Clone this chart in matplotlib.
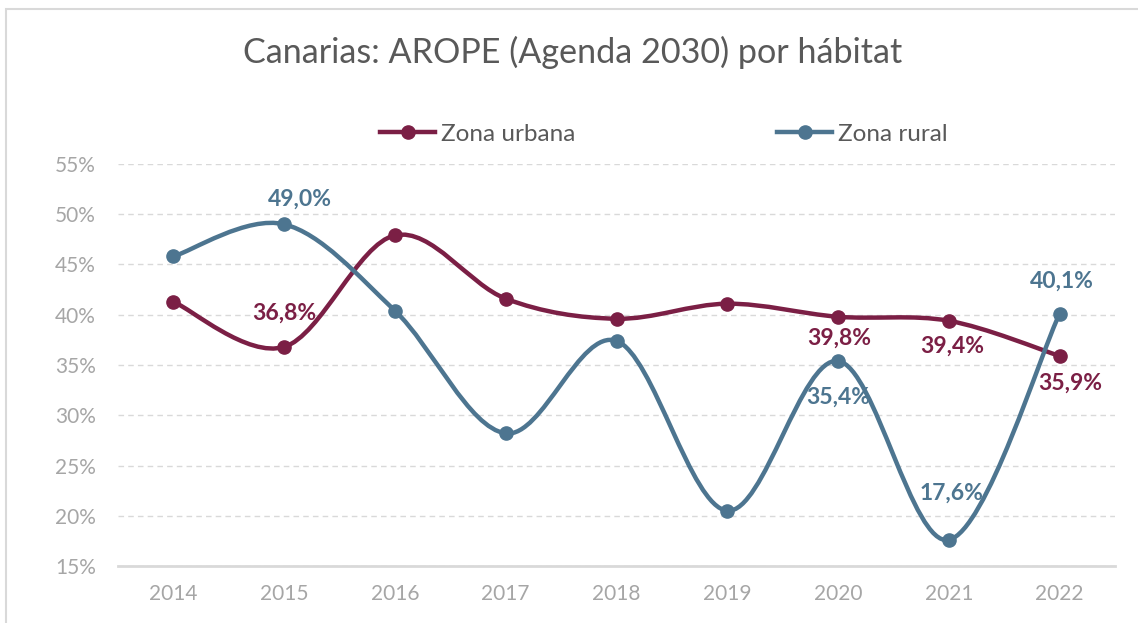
import numpy as np
import matplotlib
matplotlib.use("Agg")
import matplotlib.pyplot as plt
from matplotlib.path import Path
from matplotlib.patches import PathPatch, Rectangle
from matplotlib.lines import Line2D

plt.rcParams['font.family'] = ['Lato', 'DejaVu Sans']

# datos
years = ['2014', '2015', '2016', '2017', '2018', '2019', '2020', '2021', '2022']
urbana = [41.3, 36.8, 47.9, 41.6, 39.6, 41.1, 39.8, 39.4, 35.9]
rural = [45.8, 49.0, 40.4, 28.2, 37.4, 20.5, 35.4, 17.6, 40.1]
yticks = [15, 20, 25, 30, 35, 40, 45, 50, 55]

c_urb = '#7B1F45'
c_rur = '#4D7590'

# etiquetas de datos: indice -> desplazamiento en px (dx, dy)
lab_urb = {1: (0, 34), 6: (1, -21), 7: (3, -25), 8: (11, -27)}
lab_rur = {1: (16, 25), 6: (0, -36), 7: (3, 47), 8: (2, 33)}


def smooth_path(xs, ys):
    # curva suavizada tipo Excel (bezier catmull-rom)
    pts = np.column_stack([xs, ys]).astype(float)
    n = len(pts)
    verts = [pts[0]]
    codes = [Path.MOVETO]
    for i in range(n - 1):
        p0 = pts[i - 1] if i > 0 else pts[i]
        p1 = pts[i]
        p2 = pts[i + 1]
        p3 = pts[i + 2] if i + 2 < n else pts[i + 1]
        c1 = p1 + (p2 - p0) / 6.0
        c2 = p2 - (p3 - p1) / 6.0
        verts += [c1, c2, p2]
        codes += [Path.CURVE4] * 3
    return Path(verts, codes)


fig = plt.figure(figsize=(11.38, 6.23), dpi=100)
ax = fig.add_axes([118 / 1138, 57 / 623, 997 / 1138, 402 / 623])

x = np.arange(len(years))
for vals, col, labs in [(urbana, c_urb, lab_urb), (rural, c_rur, lab_rur)]:
    ax.add_patch(PathPatch(smooth_path(x, vals), fill=False, edgecolor=col,
                           lw=3.2, capstyle='round', joinstyle='round', zorder=3))
    ax.plot(x, vals, 'o', color=col, markersize=9.5, zorder=4)
    for i, (dx, dy) in labs.items():
        ax.annotate(f"{vals[i]:.1f}%".replace('.', ','), (x[i], vals[i]),
                    xytext=(dx * 0.72, dy * 0.72), textcoords='offset points',
                    ha='center', va='center', color=col, fontsize=16.5,
                    fontweight='bold', zorder=5)

ax.set_xlim(-0.5, len(years) - 0.5)
ax.set_ylim(15, 55)
ax.set_xticks(x)
ax.set_xticklabels(years)
ax.set_yticks(yticks)
ax.set_yticklabels([f"{t}%" for t in yticks])
ax.tick_params(length=0, labelsize=15, labelcolor='#A6A6A6')
ax.tick_params(axis='y', pad=16)
ax.tick_params(axis='x', pad=13)
for s in ['top', 'right', 'left']:
    ax.spines[s].set_visible(False)
ax.spines['bottom'].set_color('#D9D9D9')
ax.spines['bottom'].set_linewidth(2)
ax.yaxis.grid(True, color='#D9D9D9', linestyle=(0, (4, 3)), lw=1)
ax.set_axisbelow(True)

fig.text(573 / 1138, 1 - 52 / 623, 'Canarias: AROPE (Agenda 2030) por hábitat',
         ha='center', va='center', fontsize=24.6, color='#595959')

handles = [Line2D([], [], color=c_urb, lw=3.2, marker='o', markersize=9.5),
           Line2D([], [], color=c_rur, lw=3.2, marker='o', markersize=9.5)]
fig.legend(handles, ['Zona urbana', 'Zona rural'], loc='center',
           bbox_to_anchor=(664 / 1138, 1 - 134 / 623), ncol=2, frameon=False,
           fontsize=17.5, handlelength=2.25, handletextpad=0.25, columnspacing=8.3,
           labelcolor='#595959')

fig.patches.append(Rectangle((6 / 1138, -0.05), 1.2, 1 - 9 / 623 + 0.05,
                             transform=fig.transFigure, fill=False,
                             edgecolor='#D9D9D9', lw=1.5))

fig.savefig('out.png', dpi=100)
